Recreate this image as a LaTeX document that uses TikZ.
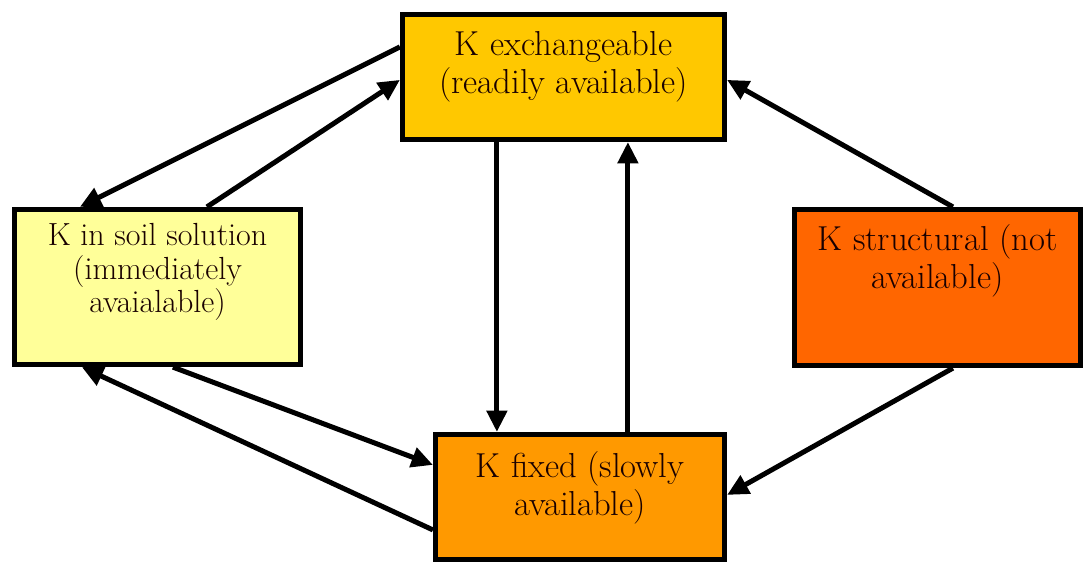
\documentclass[tikz,border=0pt]{standalone}
\usepackage{fontspec}
\usetikzlibrary{arrows.meta,calc}
\definecolor{cExch}{RGB}{255,200,0}
\definecolor{cSoil}{RGB}{255,255,153}
\definecolor{cStruct}{RGB}{255,102,0}
\definecolor{cFixed}{RGB}{255,153,0}
\begin{document}
\begin{tikzpicture}[x=0.75pt,y=-0.75pt,
  box/.style={draw=black,line width=3.9pt,rectangle,inner sep=0pt},
  lbl/.style={align=center,font=\fontsize{26}{28.5}\selectfont,text=black!90!red,inner sep=0pt},
  conn/.style={draw=black,line width=3.75pt,-{Triangle[length=16pt,width=15pt]}}]
\useasboundingbox (0,0) rectangle (1087,565);
\node[box,fill=cExch,minimum width=241.5pt,minimum height=93.75pt] (exch) at (563.5,77) {};
\node[box,fill=cSoil,minimum width=214.5pt,minimum height=116.25pt] (soil) at (157.5,287) {};
\node[box,fill=cStruct,minimum width=214.5pt,minimum height=117pt] (struct) at (937.5,287.5) {};
\node[box,fill=cFixed,minimum width=216.75pt,minimum height=93.75pt] (fixed) at (580,497) {};
\node[lbl] (exchT) at (563.5,67) {K exchangeable\\(readily available)};
\node[lbl,font=\fontsize{24}{25}\selectfont] (soilT) at (157.5,272) {K in soil solution\\(immediately\\avaialable)};
\node[lbl] (structT) at (937.5,261) {K structural (not\\available)};
\node[lbl] (fixedT) at (580,488) {K fixed (slowly\\available)};
\draw[conn] ($(exch.north west)+(0,35)$) -- ($(soil.north west)+(68,0)$);
\draw[conn] ($(soil.north west)+(195,0)$) -- ($(exch.north west)+(0,68)$);
\draw[conn] ($(exch.south west)+(97,0)$) -- ($(fixed.north west)+(64,0)$);
\draw[conn] ($(fixed.north west)+(195,0)$) -- ($(exch.south west)+(228,0)$);
\draw[conn] ($(struct.north west)+(161,0)$) -- ($(exch.north east)+(0,68)$);
\draw[conn] ($(struct.south west)+(161,0)$) -- ($(fixed.north east)+(0,63)$);
\draw[conn] ($(soil.south west)+(161,0)$) -- ($(fixed.north west)+(0,33)$);
\draw[conn] ($(fixed.north west)+(0,98)$) -- ($(soil.south west)+(70,0)$);
\end{tikzpicture}
\end{document}
